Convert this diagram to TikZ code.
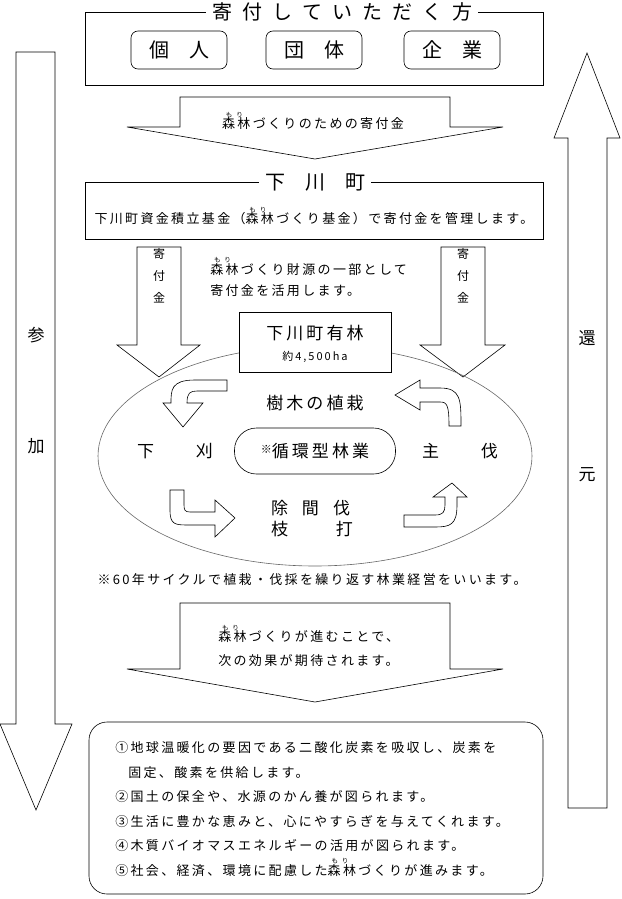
\documentclass[tikz,border=0pt]{standalone}
\usepackage{fontspec}
\setmainfont{Noto Sans CJK JP}[LetterSpace=18]
\newcommand\mori{\leavevmode\setbox0\hbox{森林}\rlap{\raisebox{\dimexpr\ht0+0.5pt\relax}{\hbox to\wd0{\hfil\fontsize{6.5}{6.5}\selectfont も\hfil り\hfil\hfil}}}森林}
\begin{document}
\begin{tikzpicture}[x=1pt,y=-1pt,line width=0.6pt]
\tikzstyle{every node}=[inner sep=0pt,font=\fontsize{13}{17}\selectfont];
\tikzstyle{pill}=[draw,rounded corners=7pt,minimum width=96pt,minimum height=38pt,font=\fontsize{20}{20}\selectfont];
\tikzstyle{head}=[fill=white,inner xsep=6pt,font=\fontsize{20}{20}\selectfont];
\tikzstyle{big}=[font=\fontsize{17}{17}\selectfont];
\tikzstyle{hollow}=[draw,fill=white];
\useasboundingbox (0,0) rectangle (621,899);

% donors
\draw (85,12) rectangle (543,85);
\draw(342,12) node[head] (Donor) {寄\hspace{10pt}付\hspace{10pt}し\hspace{10pt}て\hspace{10pt}い\hspace{10pt}た\hspace{10pt}だ\hspace{10pt}く\hspace{10pt}方};
\draw(179,50) node[pill] (Ind) {個\hspace{20pt}人};
\draw(314,50) node[pill] (Grp) {団\hspace{20pt}体};
\draw(452,50) node[pill] (Corp) {企\hspace{20pt}業};

% donation arrow
\draw[hollow] (180,97) -- (450,97) -- (450,127) -- (503,127) -- (315,159) -- (127,127) -- (180,127) -- cycle;
\draw(313,121) node (Gift) {\mori づくりのための寄付金};

% town
\draw (85,182) rectangle (543,239);
\draw(315,182) node[head] (Town) {下\hspace{20pt}川\hspace{20pt}町};
\draw(314,216) node (Fund) {下川町資金積立基金（\mori づくり基金）で寄付金を管理します。};

% side arrows into forest
\draw[hollow] (137,247) -- (181,247) -- (181,345) -- (200,345) -- (159,377) -- (117,345) -- (137,345) -- cycle;
\draw[hollow] (441,247) -- (485,247) -- (485,345) -- (505,345) -- (463,377) -- (420,345) -- (441,345) -- cycle;
\draw(159,276) node[align=center,font=\fontsize{12}{22}\selectfont] (GL) {寄\\付\\金};
\draw(463,276) node[align=center,font=\fontsize{12}{22}\selectfont] (GR) {寄\\付\\金};
\draw(210,277) node[anchor=west,align=left,font=\fontsize{13}{21}\selectfont] (Use) {\mori づくり財源の一部として\\寄付金を活用します。};

% forest cycle
\draw[black!60] (315,456) ellipse [x radius=217, y radius=110];
\draw[hollow] (239,312) rectangle (391,372);
\draw(315,333) node[big] (Forest) {下川町有林};
\draw(315,357) node[font=\fontsize{11}{11}\selectfont] (Area) {約4,500ha};
\draw(315,451) node[draw,rounded corners=22pt,minimum width=161pt,minimum height=46pt,big] (Cycle) {\raisebox{4pt}{\fontsize{11}{11}\selectfont ※}循環型林業};
\draw(315,403) node[big] (Plant) {樹木の植栽};
\draw(175,451) node[big] (Weed) {下\hspace{42pt}刈};
\draw(460,451) node[big] (Cut) {主\hspace{42pt}伐};
\draw(312,519) node[big,align=left,font=\fontsize{17}{21}\selectfont] (Thin) {除\hspace{14pt}間\hspace{14pt}伐\\枝\hspace{48pt}打};
\draw[hollow] (227,380) -- (195,380) .. controls (171,380) and (171,390) .. (171,403) -- (163,403) -- (183,427) -- (203,403) -- (187,403) .. controls (187,393) and (190,391) .. (197,391) -- (227,391) -- cycle;
\draw[hollow] (395,395) -- (420,380) -- (420,388) -- (440,388) .. controls (461,388) and (461,400) .. (461,426) -- (449,426) .. controls (449,405) and (447,402) .. (440,402) -- (420,402) -- (420,410) -- cycle;
\draw[hollow] (170,490) -- (170,510) .. controls (170,525) and (175,525) .. (190,525) -- (215,525) -- (215,537) -- (235,518) -- (215,500) -- (215,512) -- (190,512) .. controls (185,512) and (184,510) .. (184,505) -- (184,490) -- cycle;
\draw[hollow] (404,515) -- (435,515) .. controls (443,515) and (445,512) .. (445,505) -- (445,497) -- (433,497) -- (452,483) -- (467,497) -- (457,497) -- (457,505) .. controls (457,525) and (450,527) .. (435,527) -- (404,527) -- cycle;
\draw(312,580) node (Note) {※60年サイクルで植栽・伐採を繰り返す林業経営をいいます。};

% effects arrow
\draw[hollow] (180,603) -- (450,603) -- (450,669) -- (503,669) -- (315,702) -- (127,669) -- (180,669) -- cycle;
\draw(218,646) node[anchor=west,align=left,font=\fontsize{13}{24}\selectfont] (Effect) {\mori づくりが進むことで、\\次の効果が期待されます。};

% effects list
\draw[rounded corners=18pt] (89,722) rectangle (543,894);
\draw(115,809) node[anchor=west,align=left,font=\fontsize{13}{24.6}\selectfont] (List) {①地球温暖化の要因である二酸化炭素を吸収し、炭素を\\\hspace{13pt}固定、酸素を供給します。\\②国土の保全や、水源のかん養が図られます。\\③生活に豊かな恵みと、心にやすらぎを与えてくれます。\\④木質バイオマスエネルギーの活用が図られます。\\⑤社会、経済、環境に配慮した\mori づくりが進みます。};

% participation / return
\draw[hollow] (16,52) -- (55,52) -- (55,724) -- (72,724) -- (36,810) -- (0,724) -- (16,724) -- cycle;
\draw(36,335) node[big] (Join1) {参};
\draw(36,446) node[big] (Join2) {加};
\draw[hollow] (587,53) -- (620,138) -- (607,138) -- (607,808) -- (568,808) -- (568,138) -- (554,138) -- cycle;
\draw(587,338) node[big] (Ret1) {還};
\draw(587,475) node[big] (Ret2) {元};
\end{tikzpicture}
\end{document}
